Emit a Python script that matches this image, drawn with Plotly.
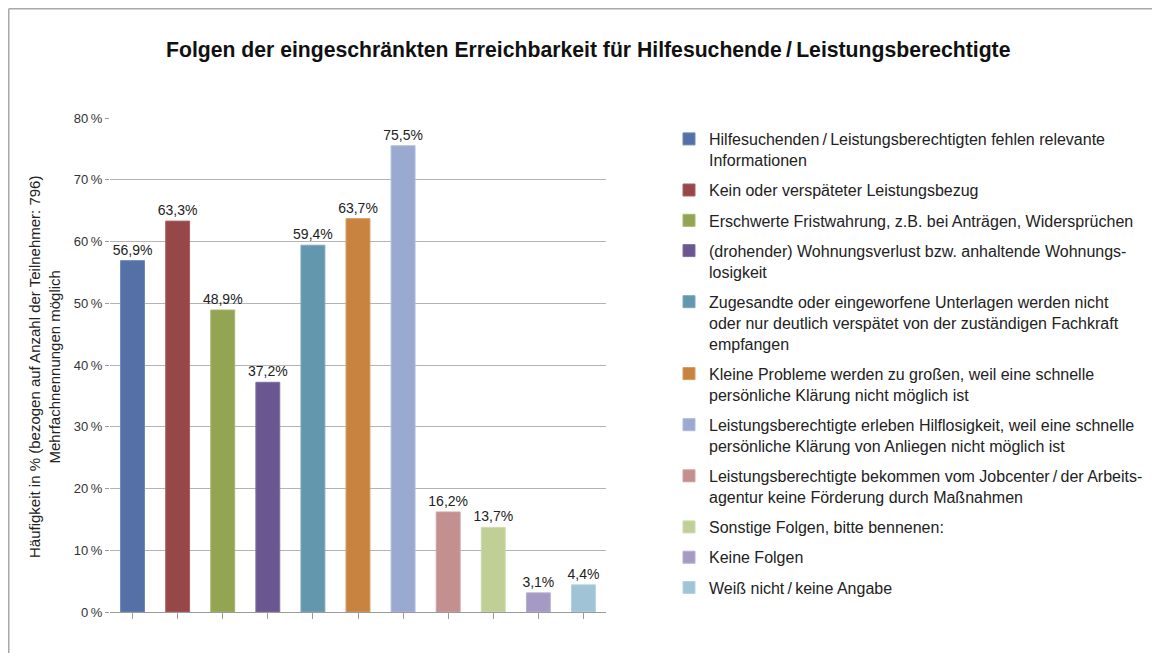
import plotly.graph_objects as go

categories = [
    "Hilfesuchenden\u2009/\u2009Leistungsberechtigten fehlen relevante<br>Informationen",
    "Kein oder verspäteter Leistungsbezug",
    "Erschwerte Fristwahrung, z.B. bei Anträgen, Widersprüchen",
    "(drohender) Wohnungsverlust bzw. anhaltende Wohnungs-<br>losigkeit",
    "Zugesandte oder eingeworfene Unterlagen werden nicht<br>oder nur deutlich verspätet von der zuständigen Fachkraft<br>empfangen",
    "Kleine Probleme werden zu großen, weil eine schnelle<br>persönliche Klärung nicht möglich ist",
    "Leistungsberechtigte erleben Hilflosigkeit, weil eine schnelle<br>persönliche Klärung von Anliegen nicht möglich ist",
    "Leistungsberechtigte bekommen vom Jobcenter\u2009/\u2009der Arbeits-<br>agentur keine Förderung durch Maßnahmen",
    "Sonstige Folgen, bitte bennenen:",
    "Keine Folgen",
    "Weiß nicht\u2009/\u2009keine Angabe",
]
values = [56.9, 63.3, 48.9, 37.2, 59.4, 63.7, 75.5, 16.2, 13.7, 3.1, 4.4]
colors = ["#5470A6", "#974747", "#93A553", "#6A5690", "#6397AE", "#C98341",
          "#99A9CF", "#C38F8F", "#C0CF96", "#A59AC3", "#A0C4D6"]
edge_colors = ["#6D86B5", "#A86262", "#A6B56E", "#8070A0", "#7DA9BD", "#D59A5F",
               "#ADBBDA", "#CFA3A3", "#CEDAAA", "#B7ADD0", "#B5D2E0"]
tick_vals = [0, 10, 20, 30, 40, 50, 60, 70, 80]
tick_text = [f"{v}\u2009%" for v in tick_vals]
title = "Folgen der eingeschränkten Erreichbarkeit für Hilfesuchende\u2009/\u2009Leistungsberechtigte"
y_title = "Häufigkeit in % (bezogen auf Anzahl der Teilnehmer: 796)<br>Mehrfachnennungen möglich"

W, H = 1160, 653
OFF = 8  # page body margin


def px(x):
    return (x - OFF) / W


def py(y):
    return 1 - (y - OFF) / H


fig = go.Figure()
for i, (c, v) in enumerate(zip(categories, values)):
    fig.add_trace(go.Bar(
        x=[i], y=[v], name=c,
        marker=dict(color=colors[i], line=dict(color=edge_colors[i], width=1)),
        text=[f"{v:.1f}".replace(".", ",") + "%"],
        textposition="outside", cliponaxis=False, constraintext="none",
        textfont=dict(size=14, color="#222222", family="Liberation Sans, Arial"),
        legendgroup=f"g{i}",
        width=0.53,
    ))

fig.update_layout(
    width=W, height=H,
    margin=dict(l=0, r=0, t=0, b=0, autoexpand=False),
    paper_bgcolor="white", plot_bgcolor="white",
    font=dict(family="Liberation Sans, Arial", color="#222222"),
    showlegend=True,
    barmode="overlay",
    legend=dict(
        x=px(669), y=py(122), xanchor="left", yanchor="top",
        font=dict(size=16, color="#222222"),
        valign="top", tracegroupgap=6.5, traceorder="grouped",
        bgcolor="rgba(0,0,0,0)",
    ),
    xaxis=dict(
        domain=[px(110), px(606)], range=[-0.5, 10.5], automargin=False,
        tickmode="array", tickvals=list(range(11)), showticklabels=False,
        showgrid=False, showline=True, linecolor="#9a9a9a", linewidth=1,
        ticks="outside", ticklen=6, tickcolor="#9a9a9a",
        zeroline=False,
    ),
    yaxis=dict(
        domain=[py(612), py(118)], range=[0, 80], automargin=False,
        tickmode="array", tickvals=tick_vals, ticktext=tick_text,
        tickfont=dict(size=13, color="#333333"),
        showgrid=True, gridcolor="#b4b4b4", gridwidth=1,
        ticks="outside", ticklen=4, tickcolor="#9a9a9a",
        showline=False, zeroline=False,
    ),
    shapes=[
        dict(type="line", xref="paper", yref="paper",
             x0=px(8.75), x1=1, y0=py(8.75), y1=py(8.75),
             line=dict(color="#a8a8a8", width=1.5)),
        dict(type="line", xref="paper", yref="paper",
             x0=px(8.75), x1=px(8.75), y0=0, y1=py(8.75),
             line=dict(color="#a8a8a8", width=1.5)),
    ],
    annotations=[
        dict(text=f"<b>{title}</b>", x=px(588), y=py(50), xref="paper", yref="paper",
             showarrow=False, xanchor="center", yanchor="middle",
             font=dict(size=21.2, color="#111111")),
        dict(text=y_title, x=px(44), y=py(367), xref="paper", yref="paper",
             showarrow=False, textangle=-90, xanchor="center", yanchor="middle",
             font=dict(size=15, color="#222222")),
    ],
)
fig.update_xaxes(tickson="boundaries")

fig.write_html("out.html")
